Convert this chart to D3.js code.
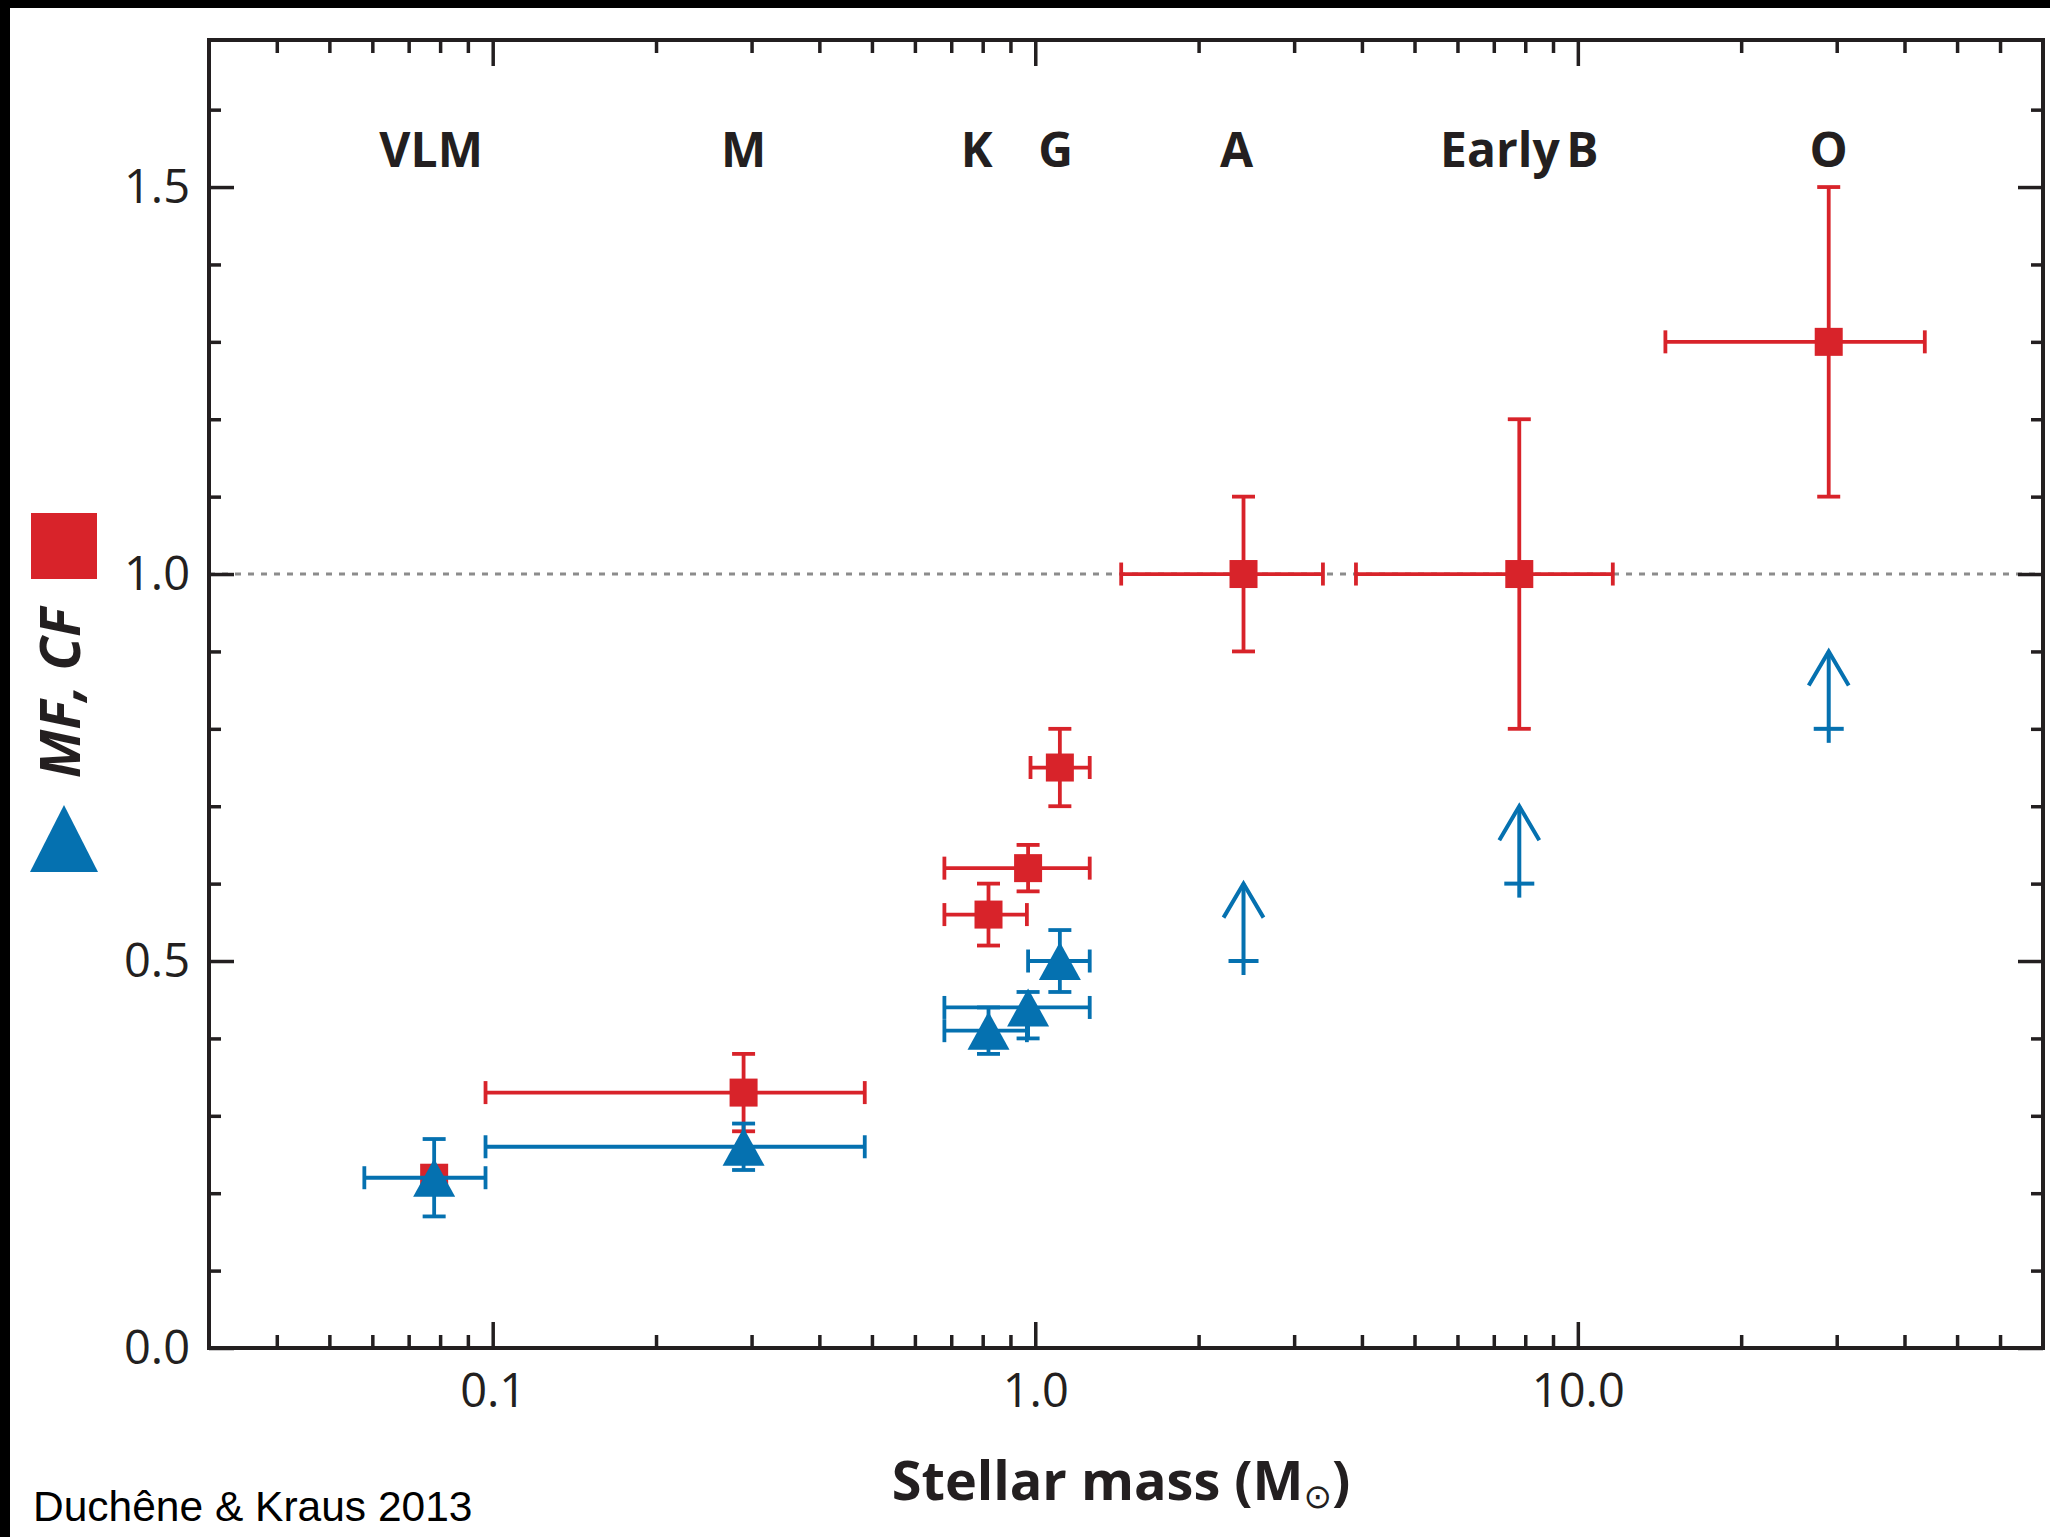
<!DOCTYPE html>
<html>
<head>
<meta charset="utf-8">
<script src="https://cdn.jsdelivr.net/npm/d3@7"></script>
<style>
    body { margin: 0; background: #fff; }
    svg { display: block; }
</style>
</head>
<body>
<svg id="SVG_CONTAINER" width="2050" height="1537"></svg>
<script>
//dimension of our workspace
const width = 2050,
    height = 1537;

const MARGIN = {
    "LEFT": 209,
    "RIGHT": 7,
    "TOP": 40,
    "BOTTOM": 189,
};

// spectral type labels across the top, placed at a stellar mass
const categories = ["VLM", "M", "K", "G", "A", "Early B", "O"];
const categoryMass = [0.077, 0.29, 0.78, 1.09, 2.35, 7.8, 29];

// multiplicity frequency (red squares)
const mfMass   = [0.078, 0.29, 0.82, 0.97, 1.11, 2.42, 7.8, 29];
const mfValue  = [0.22, 0.33, 0.56, 0.62, 0.75, 1.0, 1.0, 1.3];
const mfMassLo = [null, 0.097, 0.68, 0.68, 0.98, 1.44, 3.9, 14.5];
const mfMassHi = [null, 0.485, 0.965, 1.26, 1.26, 3.39, 11.6, 43.6];
const mfLo     = [null, 0.28, 0.52, 0.59, 0.70, 0.9, 0.8, 1.1];
const mfHi     = [null, 0.38, 0.60, 0.65, 0.80, 1.1, 1.2, 1.5];

// companion frequency (blue triangles)
const cfMass   = [0.078, 0.29, 0.82, 0.97, 1.11];
const cfValue  = [0.22, 0.26, 0.41, 0.44, 0.50];
const cfMassLo = [0.058, 0.097, 0.68, 0.68, 0.97];
const cfMassHi = [0.097, 0.485, 0.965, 1.26, 1.26];
const cfLo     = [0.17, 0.23, 0.38, 0.40, 0.46];
const cfHi     = [0.27, 0.29, 0.44, 0.46, 0.54];

// companion frequency lower limits (blue arrows)
const limMass  = [2.42, 7.8, 29];
const limValue = [0.5, 0.6, 0.8];
const limTip   = [0.6, 0.7, 0.9];

// axis ticks
const xMajorTicks = [0.1, 1, 10];
const xMinorTicks = [0.04, 0.05, 0.06, 0.07, 0.08, 0.09,
    0.2, 0.3, 0.4, 0.5, 0.6, 0.7, 0.8, 0.9,
    2, 3, 4, 5, 6, 7, 8, 9,
    20, 30, 40, 50, 60];
const yMajorTicks = [0, 0.5, 1.0, 1.5];
const yMinorTicks = [0.1, 0.2, 0.3, 0.4, 0.6, 0.7, 0.8, 0.9, 1.1, 1.2, 1.3, 1.4, 1.6];

const RED = "#d8232a",
    BLUE = "#0571b0",
    INK = "#231f20";

window.onload = function () {
    setup();
};

setup = function () {
    let svg = d3.select("#SVG_CONTAINER");

    let left = MARGIN.LEFT,
        right = width - MARGIN.RIGHT,
        top = MARGIN.TOP,
        bottom = height - MARGIN.BOTTOM;

    //** SCALES *****************************************
    let xScale = d3.scaleLog()
        .domain([0.03, 72])
        .range([left, right]);

    let yScale = d3.scaleLinear()
        .domain([0, 1.69])
        .range([bottom, top]);

    //** PHOTO FRAME *****************************************
    svg.append("rect").attr("x", 0).attr("y", 0).attr("width", width).attr("height", 8).attr("fill", "#000");
    svg.append("rect").attr("x", 0).attr("y", 0).attr("width", 10).attr("height", height).attr("fill", "#000");

    //dotted reference line at 1.0
    svg.append("line")
        .attr("x1", left).attr("x2", right)
        .attr("y1", yScale(1.0)).attr("y2", yScale(1.0))
        .attr("stroke", "#8c8c8c")
        .attr("stroke-width", 3)
        .attr("stroke-dasharray", "6,7");

    //** AXES *****************************************
    function styleAxis(g) {
        g.select(".domain").remove();
        g.selectAll(".tick line").attr("stroke", INK).attr("stroke-width", 3.5);
        g.selectAll(".tick text")
            .attr("fill", INK)
            .style("font-family", "'Open Sans', 'Noto Sans', sans-serif")
            .style("font-size", "47px");
    }

    let fmt = d3.format(".1f");

    svg.append("g")
        .attr("transform", "translate(0," + bottom + ")")
        .call(d3.axisBottom(xScale).tickValues(xMajorTicks).tickSize(-26).tickSizeOuter(0).tickPadding(26).tickFormat(fmt))
        .call(styleAxis);
    svg.append("g")
        .attr("transform", "translate(0," + bottom + ")")
        .call(d3.axisBottom(xScale).tickValues(xMinorTicks).tickSize(-13).tickSizeOuter(0).tickFormat(""))
        .call(styleAxis);
    svg.append("g")
        .attr("transform", "translate(0," + top + ")")
        .call(d3.axisTop(xScale).tickValues(xMajorTicks).tickSize(-26).tickSizeOuter(0).tickFormat(""))
        .call(styleAxis);
    svg.append("g")
        .attr("transform", "translate(0," + top + ")")
        .call(d3.axisTop(xScale).tickValues(xMinorTicks).tickSize(-13).tickSizeOuter(0).tickFormat(""))
        .call(styleAxis);

    svg.append("g")
        .attr("transform", "translate(" + left + ",0)")
        .call(d3.axisLeft(yScale).tickValues(yMajorTicks).tickSize(-25).tickSizeOuter(0).tickPadding(19).tickFormat(fmt))
        .call(styleAxis);
    svg.append("g")
        .attr("transform", "translate(" + left + ",0)")
        .call(d3.axisLeft(yScale).tickValues(yMinorTicks).tickSize(-12).tickSizeOuter(0).tickFormat(""))
        .call(styleAxis);
    svg.append("g")
        .attr("transform", "translate(" + right + ",0)")
        .call(d3.axisRight(yScale).tickValues(yMajorTicks).tickSize(-25).tickSizeOuter(0).tickFormat(""))
        .call(styleAxis);
    svg.append("g")
        .attr("transform", "translate(" + right + ",0)")
        .call(d3.axisRight(yScale).tickValues(yMinorTicks).tickSize(-12).tickSizeOuter(0).tickFormat(""))
        .call(styleAxis);

    //plot frame
    svg.append("rect")
        .attr("x", left).attr("y", top)
        .attr("width", right - left).attr("height", bottom - top)
        .attr("fill", "none")
        .attr("stroke", INK)
        .attr("stroke-width", 4);

    //** CATEGORY LABELS *****************************************
    svg.append("g")
        .selectAll("text")
        .data(categories)
        .enter()
        .append("text")
        .attr("x", (d, i) => xScale(categoryMass[i]))
        .attr("y", 167)
        .attr("text-anchor", "middle")
        .attr("fill", INK)
        .style("font-family", "'Open Sans', sans-serif")
        .style("font-weight", "bold")
        .style("font-size", "48px")
        .style("word-spacing", "-6px")
        .text(d => d);

    //** ERROR BARS *****************************************
    let cap = 11.5;
    function drawErrors(g, mass, value, mLo, mHi, lo, hi, colour) {
        for (let i = 0; i < mass.length; i++) {
            let cx = xScale(mass[i]), cy = yScale(value[i]);
            if (mLo[i] != null) {
                let x1 = xScale(mLo[i]), x2 = xScale(mHi[i]);
                g.append("line").attr("x1", x1).attr("x2", x2).attr("y1", cy).attr("y2", cy);
                g.append("line").attr("x1", x1).attr("x2", x1).attr("y1", cy - cap).attr("y2", cy + cap);
                g.append("line").attr("x1", x2).attr("x2", x2).attr("y1", cy - cap).attr("y2", cy + cap);
            }
            if (lo[i] != null) {
                let y1 = yScale(hi[i]), y2 = yScale(lo[i]);
                g.append("line").attr("x1", cx).attr("x2", cx).attr("y1", y1).attr("y2", y2);
                g.append("line").attr("x1", cx - cap).attr("x2", cx + cap).attr("y1", y1).attr("y2", y1);
                g.append("line").attr("x1", cx - cap).attr("x2", cx + cap).attr("y1", y2).attr("y2", y2);
            }
        }
        g.selectAll("line").attr("stroke", colour).attr("stroke-width", 3.8);
    }

    //red MF
    let mfGroup = svg.append("g");
    drawErrors(mfGroup.append("g"), mfMass, mfValue, mfMassLo, mfMassHi, mfLo, mfHi, RED);
    mfGroup.selectAll("rect.mf")
        .data(mfMass)
        .enter()
        .append("rect")
        .attr("class", "mf")
        .attr("x", d => xScale(d) - 14)
        .attr("y", (d, i) => yScale(mfValue[i]) - 14)
        .attr("width", 28)
        .attr("height", 28)
        .attr("fill", RED);

    //blue CF
    let cfGroup = svg.append("g");
    drawErrors(cfGroup.append("g"), cfMass, cfValue, cfMassLo, cfMassHi, cfLo, cfHi, BLUE);
    cfGroup.selectAll("path.cf")
        .data(cfMass)
        .enter()
        .append("path")
        .attr("class", "cf")
        .attr("d", "M0,-19L21,19L-21,19Z")
        .attr("transform", (d, i) => "translate(" + xScale(d) + "," + yScale(cfValue[i]) + ")")
        .attr("fill", BLUE);

    //lower limits
    let limGroup = svg.append("g")
        .attr("stroke", BLUE)
        .attr("stroke-width", 4)
        .attr("fill", "none");
    for (let i = 0; i < limMass.length; i++) {
        let x = xScale(limMass[i]), yb = yScale(limValue[i]), yt = yScale(limTip[i]);
        limGroup.append("line").attr("x1", x).attr("x2", x).attr("y1", yb + 14).attr("y2", yt);
        limGroup.append("line").attr("x1", x - 15).attr("x2", x + 15).attr("y1", yb).attr("y2", yb);
        limGroup.append("path")
            .attr("d", "M" + (x - 20) + "," + (yt + 34) + "L" + x + "," + yt + "L" + (x + 20) + "," + (yt + 34));
    }

    //** LEGEND / Y LABEL *****************************************
    svg.append("rect")
        .attr("x", 31).attr("y", 513)
        .attr("width", 66).attr("height", 66)
        .attr("fill", RED);
    svg.append("path")
        .attr("d", "M30,872L98,872L64,805Z")
        .attr("fill", BLUE);
    svg.append("text")
        .attr("transform", "translate(80,693) rotate(-90)")
        .attr("text-anchor", "middle")
        .attr("fill", INK)
        .style("font-family", "'Open Sans', sans-serif")
        .style("font-weight", "bold")
        .style("font-style", "italic")
        .style("font-size", "55px")
        .text("MF, CF");

    //x axis title
    let xTitle = svg.append("text")
        .attr("x", 1121)
        .attr("y", 1500)
        .attr("text-anchor", "middle")
        .attr("fill", INK)
        .style("font-family", "'Open Sans', sans-serif")
        .style("font-weight", "bold")
        .style("font-size", "54px");
    xTitle.append("tspan").text("Stellar mass (M");
    xTitle.append("tspan")
        .attr("dy", 8)
        .style("font-size", "34px")
        .style("font-weight", "normal")
        .style("font-family", "'DejaVu Sans', sans-serif")
        .text("\u2299");
    xTitle.append("tspan").attr("dy", -8).text(")");

    //credit
    svg.append("text")
        .attr("x", 33)
        .attr("y", 1521)
        .attr("fill", "#000")
        .style("font-family", "'Liberation Sans', Arial, sans-serif")
        .style("font-size", "42.5px")
        .text("Duch\u00eane & Kraus 2013");
};
</script>
</body>
</html>
